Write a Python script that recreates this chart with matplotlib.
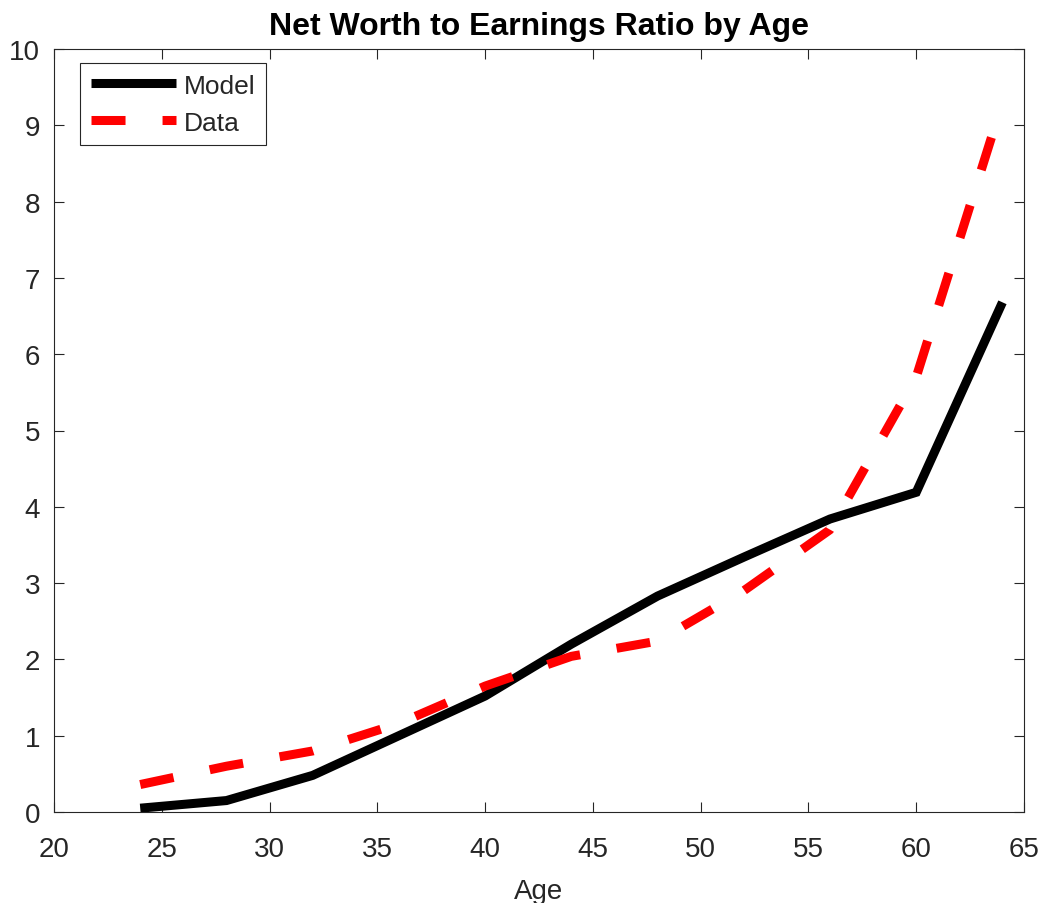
import matplotlib
matplotlib.use("Agg")
import matplotlib.pyplot as plt

# Net worth to earnings ratio, by age
ages = [24, 28, 32, 36, 40, 44, 48, 52, 56, 60, 64]
model = [0.05, 0.15, 0.48, 1.00, 1.52, 2.20, 2.83, 3.34, 3.84, 4.19, 6.68]
data = [0.36, 0.60, 0.80, 1.16, 1.65, 2.04, 2.24, 2.90, 3.70, 5.70, 9.30]

x_ticks = [20, 25, 30, 35, 40, 45, 50, 55, 60, 65]
y_ticks = list(range(0, 11))

axis_gray = "#262626"
plt.rcParams["font.family"] = ["Liberation Sans", "DejaVu Sans"]

fig = plt.figure(figsize=(10.42, 9.04), dpi=100)
ax = fig.add_axes([54 / 1042, 1 - 813 / 904, 970 / 1042, 763 / 904])

ax.plot(ages, model, color="black", lw=6.5, solid_capstyle="butt",
        solid_joinstyle="miter", label="Model")
ax.plot(ages, data, color="#ff0000", lw=6.5, linestyle=(0, (3.77, 4.1)),
        dash_capstyle="butt", label="Data")

ax.set_xlim(20, 65)
ax.set_ylim(0, 10)
ax.set_xticks(x_ticks)
ax.set_yticks(y_ticks)
ax.tick_params(direction="in", length=7, width=0.8, color=axis_gray,
               labelcolor=axis_gray, labelsize=20, top=True, right=True)
ax.tick_params(axis="x", pad=17)
ax.tick_params(axis="y", pad=10)
for side in ax.spines.values():
    side.set_color(axis_gray)
    side.set_linewidth(0.8)

ax.set_xlabel("Age", fontsize=20, color=axis_gray, labelpad=12)
ax.set_title("Net Worth to Earnings Ratio by Age", fontsize=23,
             fontweight="bold", color="black", pad=10.5)

leg = ax.legend(loc="upper left", bbox_to_anchor=(0.0268, 0.9817),
                borderaxespad=0, fontsize=19, handlelength=3.25,
                handletextpad=0.3, labelspacing=0.5, borderpad=0.4,
                frameon=True, fancybox=False, framealpha=1)
leg.get_frame().set_edgecolor(axis_gray)
leg.get_frame().set_linewidth(0.8)
for txt in leg.get_texts():
    txt.set_color(axis_gray)

fig.savefig("out.png", dpi=100)
